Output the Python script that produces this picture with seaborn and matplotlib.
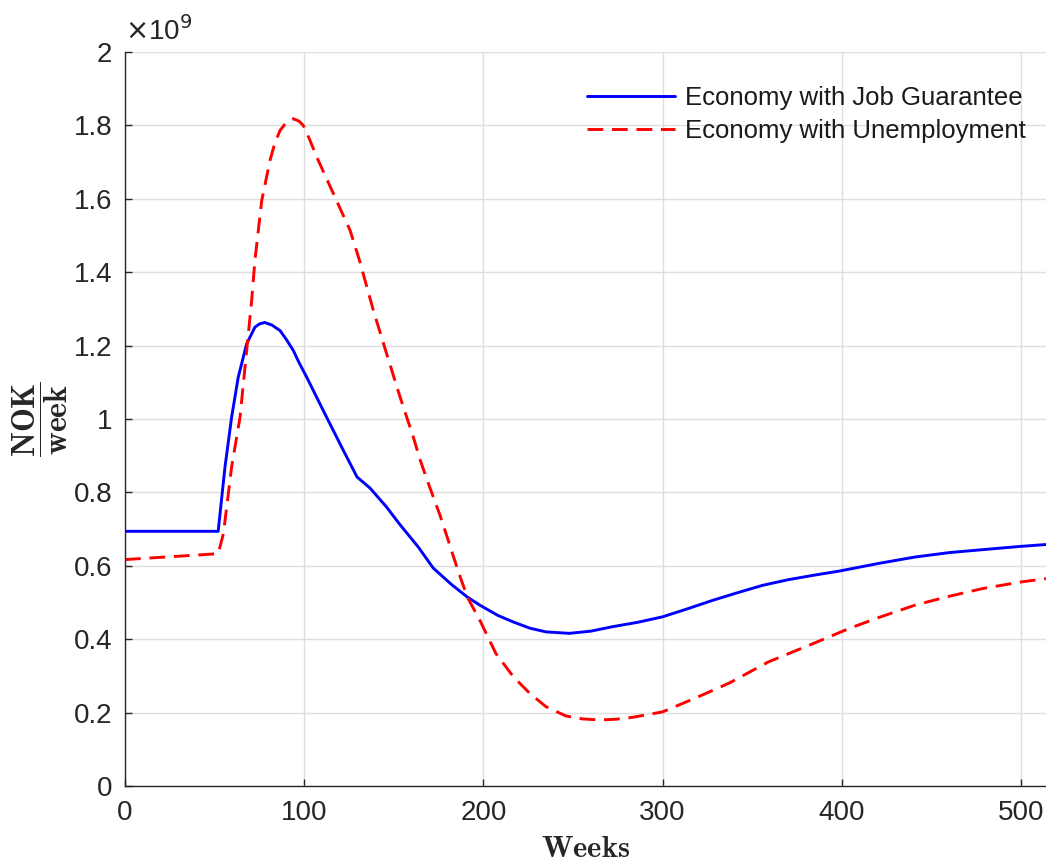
import numpy as np
import pandas as pd
import matplotlib
matplotlib.use("Agg")
import matplotlib.pyplot as plt
import seaborn as sns
from matplotlib.ticker import FuncFormatter

# ---- data (values in units of 1e9 NOK/week) ----
jg_weeks = [0, 52, 55.8, 59.5, 63.2, 67.9, 72.5, 75, 78, 82, 86.5, 90, 93.9, 97, 101.4,
            112.5, 121.8, 129.5, 136.7, 146, 153, 163.7, 172, 182, 191, 198, 208, 216.7,
            226, 235, 248, 260, 272, 286, 300, 314, 328, 342, 356, 370, 384, 399, 420,
            441, 460, 478.6, 500, 514]
jg_vals = [0.694, 0.694, 0.869, 1.005, 1.114, 1.205, 1.250, 1.259, 1.263, 1.256, 1.241,
           1.217, 1.187, 1.155, 1.114, 1.005, 0.915, 0.842, 0.812, 0.760, 0.715, 0.651,
           0.594, 0.550, 0.515, 0.493, 0.465, 0.447, 0.430, 0.420, 0.416, 0.422, 0.434,
           0.446, 0.461, 0.483, 0.506, 0.527, 0.547, 0.562, 0.574, 0.586, 0.606, 0.624,
           0.636, 0.644, 0.653, 0.658]

un_weeks = [0, 52, 54.9, 59.5, 64.2, 67.9, 70.7, 72.5, 76.3, 80.9, 83.5, 86.5, 90, 93.9,
            97, 99.5, 103, 107, 116.3, 125.6, 131, 138.6, 146, 153.5, 160.9, 164.6, 170,
            176, 181, 186, 191, 198, 207, 216.7, 226, 235, 246, 255, 265, 274, 283, 300,
            318, 337, 359, 384, 404, 420, 441, 460, 478.6, 500, 514]
un_vals = [0.617, 0.633, 0.687, 0.869, 1.005, 1.187, 1.323, 1.432, 1.595, 1.704, 1.750,
           1.786, 1.808, 1.818, 1.812, 1.800, 1.762, 1.714, 1.614, 1.514, 1.430, 1.296,
           1.178, 1.060, 0.951, 0.890, 0.815, 0.735, 0.660, 0.585, 0.515, 0.452, 0.361,
           0.298, 0.252, 0.216, 0.191, 0.183, 0.180, 0.182, 0.187, 0.202, 0.239, 0.280,
           0.338, 0.388, 0.429, 0.458, 0.493, 0.517, 0.538, 0.556, 0.565]

series_names = ["Economy with Job Guarantee", "Economy with Unemployment"]
x_ticks = [0, 100, 200, 300, 400, 500]
y_ticks = [0, 0.2, 0.4, 0.6, 0.8, 1, 1.2, 1.4, 1.6, 1.8, 2]

df = pd.concat([
    pd.DataFrame({"Weeks": jg_weeks, "Value": jg_vals, "Series": series_names[0]}),
    pd.DataFrame({"Weeks": un_weeks, "Value": un_vals, "Series": series_names[1]}),
], ignore_index=True)

sns.set_theme(style="white")
plt.rcParams["font.family"] = ["Liberation Sans", "DejaVu Sans"]

fig = plt.figure(figsize=(10.46, 8.65), dpi=100)
ax = fig.add_axes([0.1195, 0.0913, 0.8805, 0.8486])

sns.lineplot(data=df, x="Weeks", y="Value", hue="Series", style="Series",
             palette={series_names[0]: "#0000ff", series_names[1]: "#ff0000"},
             dashes={series_names[0]: "", series_names[1]: (5.4, 3.0)},
             linewidth=2.1, sort=False, estimator=None, ax=ax, legend=True)

ax.set_xlim(0, 514)
ax.set_ylim(0, 2)
ax.set_xticks(x_ticks)
ax.set_yticks(y_ticks)
ax.yaxis.set_major_formatter(FuncFormatter(lambda v, p: f"{v:g}"))
ax.xaxis.set_major_formatter(FuncFormatter(lambda v, p: f"{v:g}"))

ax.grid(True, color="#dedede", linewidth=1.0)
ax.set_axisbelow(True)
for s in ["top", "right"]:
    ax.spines[s].set_visible(False)
for s in ["left", "bottom"]:
    ax.spines[s].set_color("#262626")
    ax.spines[s].set_linewidth(1.0)
ax.tick_params(axis="both", which="both", direction="in", length=5, width=1.0,
               color="#262626", labelcolor="#262626", labelsize=20,
               left=True, bottom=True, top=False, right=False)
ax.tick_params(axis="y", pad=9)
ax.tick_params(axis="x", pad=10)

ax.set_xlabel(r"$\mathbf{Weeks}$", fontsize=22, color="#262626",
              math_fontfamily="cm", labelpad=6)
ax.set_ylabel(r"$\dfrac{\mathbf{NOK}}{\mathbf{week}}$", fontsize=23,
              color="#262626", math_fontfamily="cm", labelpad=3)

ax.text(0.0, 1.008, r"$\times$10$^9$", transform=ax.transAxes, ha="left", va="bottom",
        fontsize=20, color="#262626")

leg = ax.legend(loc="upper right", bbox_to_anchor=(1.003, 0.985), frameon=False,
                fontsize=18.5, handlelength=3.4, handletextpad=0.4, labelspacing=0.35)
for t in leg.get_texts():
    t.set_color("#1a1a1a")

fig.savefig("out.png", dpi=100)
